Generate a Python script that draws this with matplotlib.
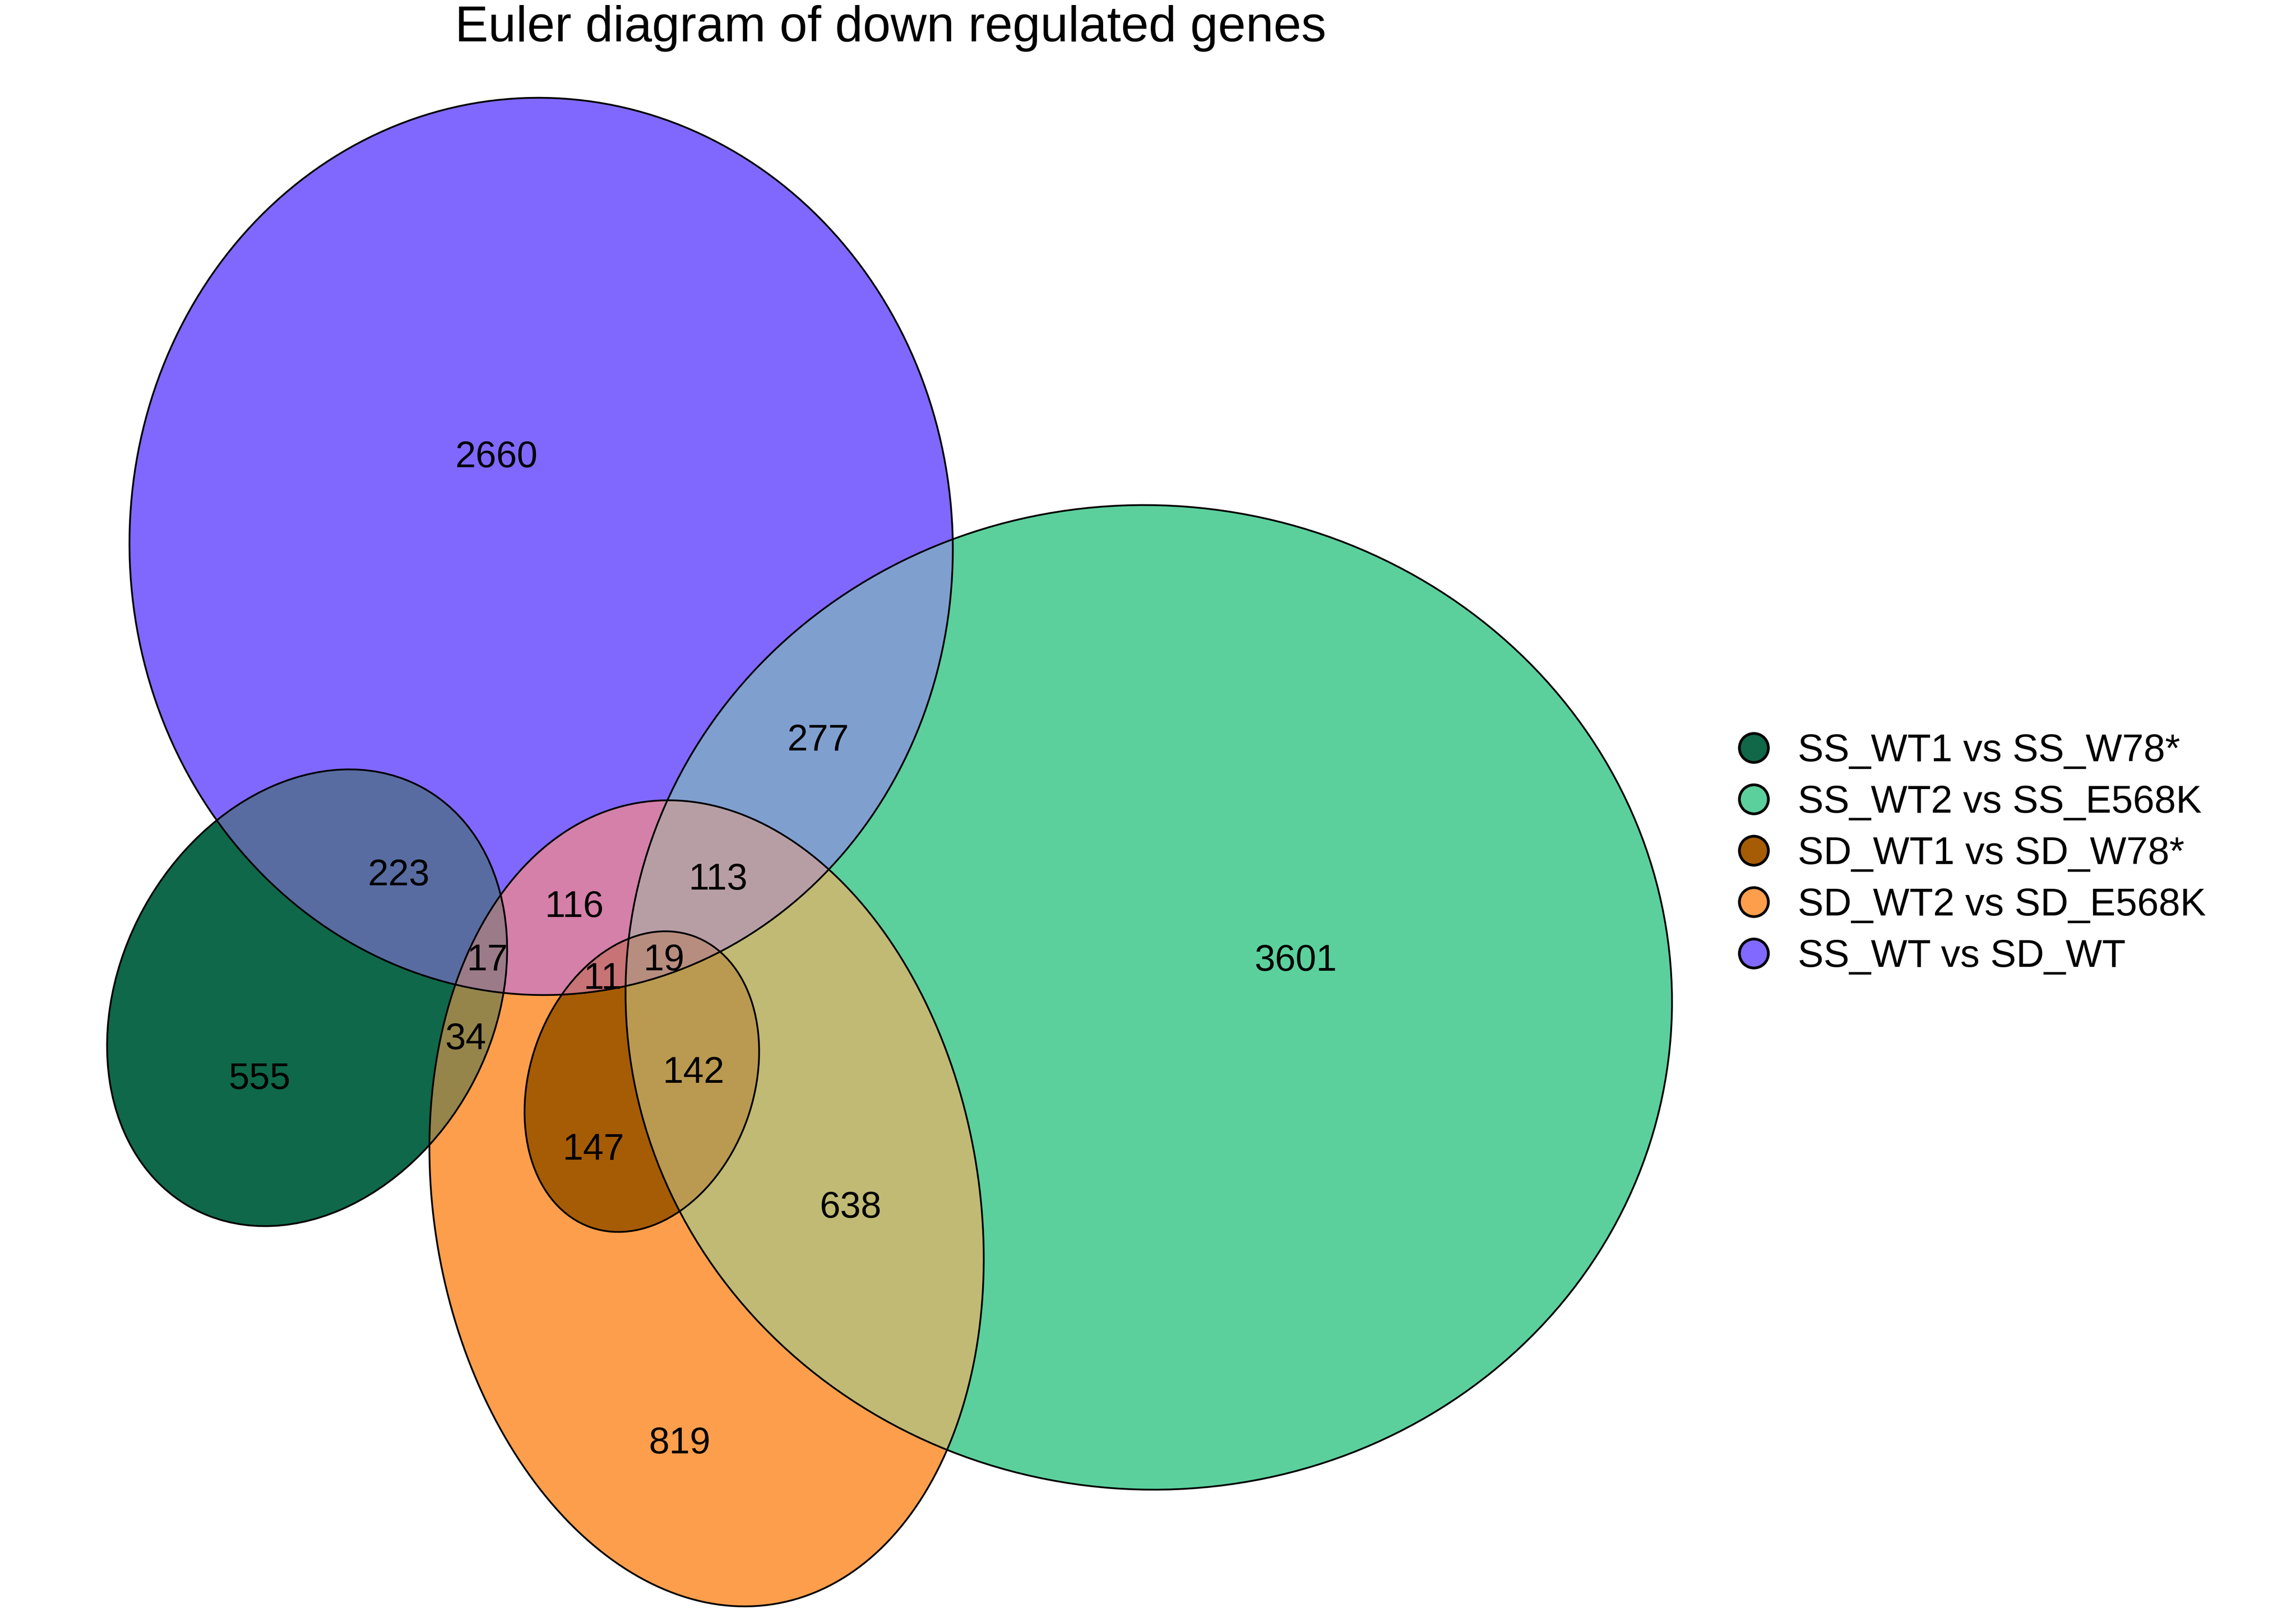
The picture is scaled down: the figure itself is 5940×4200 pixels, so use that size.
import numpy as np
import matplotlib
matplotlib.use("Agg")
import matplotlib.pyplot as plt
from matplotlib.patches import Ellipse
from matplotlib.lines import Line2D
from matplotlib.colors import to_rgb

plt.rcParams['font.family'] = ['Liberation Sans', 'DejaVu Sans']

title = "Euler diagram of down regulated genes"

# sets, legend order
sets = ["SS_WT1 vs SS_W78*", "SS_WT2 vs SS_E568K", "SD_WT1 vs SD_W78*",
        "SD_WT2 vs SD_E568K", "SS_WT vs SD_WT"]
fills = ["#106849", "#5CD09C", "#A65C04", "#FD9E4C", "#8168FF"]
# region drawn in a set colour instead of a mix (SD_WT1 lies inside SD_WT2)
fill_override = {(2, 3): "#A65C04"}

# fitted ellipses (pixel units of the picture, y pointing down)
h = [794.5, 2972.0, 1660.5, 1828.0, 1400.0]
k = [2582.0, 2581.0, 2799.0, 3114.0, 1414.0]
a = [620.3, 1354.1, 399.6, 1051.5, 1161.1]
b = [482.0, 1273.5, 289.4, 704.5, 1064.9]
phi = [-61.15, 4.32, -70.65, 80.15, 87.8]

# region counts and where they are printed
counts = [2660, 3601, 555, 819, 277, 223, 116, 113, 17, 19, 11, 34, 142, 147, 638]
lab_x = [1284, 3352, 671, 1759, 2116, 1031, 1486, 1858, 1261, 1718, 1559, 1205, 1795, 1536, 2200]
lab_y = [1174, 2477, 2783, 3726, 1907, 2256, 2338, 2267, 2476, 2476, 2524, 2680, 2767, 2966, 3116]

W, H = 5940, 4200

# --- colour mixing in Lab space (like eulerr) ---
M = np.array([[0.4124564, 0.3575761, 0.1804375],
              [0.2126729, 0.7151522, 0.0721750],
              [0.0193339, 0.1191920, 0.9503041]])
white = np.array([0.95047, 1.0, 1.08883])
d = 6 / 29


def srgb_to_lab(c):
    c = np.asarray(c, float)
    lin = np.where(c <= 0.04045, c / 12.92, ((c + 0.055) / 1.055) ** 2.4)
    t = (M @ lin) / white
    f = np.where(t > d ** 3, np.cbrt(t), t / (3 * d * d) + 4 / 29)
    return np.array([116 * f[1] - 16, 500 * (f[0] - f[1]), 200 * (f[1] - f[2])])


def lab_to_srgb(lab):
    L, A, B = lab
    fy = (L + 16) / 116
    f = np.array([fy + A / 500, fy, fy - B / 200])
    t = np.where(f > d, f ** 3, 3 * d * d * (f - 4 / 29))
    lin = np.linalg.solve(M, t * white)
    lin = np.clip(lin, 0, None)
    c = np.where(lin <= 0.0031308, 12.92 * lin, 1.055 * lin ** (1 / 2.4) - 0.055)
    return np.clip(c, 0, 1)


labs = [srgb_to_lab(to_rgb(f)) for f in fills]
n = len(sets)
lut = np.ones((2 ** n, 3))
for code in range(1, 2 ** n):
    idx = tuple(i for i in range(n) if code >> i & 1)
    if idx in fill_override:
        lut[code] = to_rgb(fill_override[idx])
    else:
        lut[code] = lab_to_srgb(np.mean([labs[i] for i in idx], axis=0))

# --- region map ---
step = 2.0
xs = np.arange(0, 4500, step) + step / 2
ys = np.arange(0, H, step) + step / 2
X, Y = np.meshgrid(xs, ys)
code = np.zeros(X.shape, dtype=int)
for i in range(n):
    t = np.deg2rad(phi[i])
    dx, dy = X - h[i], Y - k[i]
    u = dx * np.cos(t) + dy * np.sin(t)
    v = -dx * np.sin(t) + dy * np.cos(t)
    inside = (u / a[i]) ** 2 + (v / b[i]) ** 2 <= 1
    code |= inside.astype(int) << i
img = lut[code]

fig = plt.figure(figsize=(W / 300, H / 300), dpi=300)
ax = fig.add_axes([0, 0, 1, 1])
ax.imshow(img, extent=(0, 4500, H, 0), origin='upper', interpolation='nearest', zorder=1)

for i in range(n):
    ax.add_patch(Ellipse((h[i], k[i]), 2 * a[i], 2 * b[i], angle=phi[i],
                         fill=False, edgecolor='black', lw=1.1, zorder=2))

for c, x, y in zip(counts, lab_x, lab_y):
    ax.text(x, y, str(c), ha='center', va='center_baseline', fontsize=23, zorder=3)

ax.text(2304, 107, title, ha='center', va='baseline', fontsize=31)

handles = [Line2D([], [], marker='o', linestyle='none', markersize=18,
                  markerfacecolor=f, markeredgecolor='black', markeredgewidth=1.7)
           for f in fills]
ax.legend(handles, sets, loc='center left', bbox_to_anchor=(4487 / W, 1 - 2210 / H),
          frameon=False, fontsize=24, handlelength=1.0, handletextpad=0.64,
          labelspacing=0.39, borderpad=0, borderaxespad=0)

ax.set_xlim(0, W)
ax.set_ylim(H, 0)
ax.axis('off')

fig.savefig('out.png', dpi=300, facecolor='white')
